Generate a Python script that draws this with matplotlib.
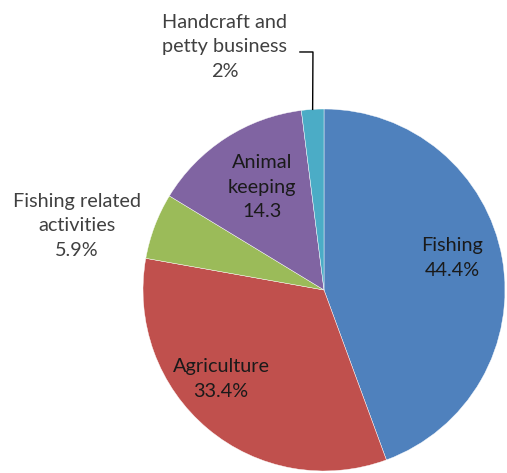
import matplotlib
matplotlib.use("Agg")
import matplotlib.pyplot as plt
import numpy as np

categories = ["Fishing", "Agriculture", "Fishing related\nactivities", "Animal\nkeeping", "Handcraft and\npetty business"]
values = [44.4, 33.4, 5.9, 14.3, 2.0]
value_labels = ["44.4%", "33.4%", "5.9%", "14.3", "2%"]
colors = ["#4F81BD", "#C0504D", "#9BBB59", "#8064A2", "#4BACC6"]
# label anchor positions (in pie-radius units)
label_pos = [(0.707, 0.177), (-0.569, -0.492), (-1.365, 0.354), (-0.343, 0.569), (-0.547, 1.343)]
label_colors = ["#1a1a1a", "#1a1a1a", "#404040", "#1a1a1a", "#404040"]

fig = plt.figure(figsize=(5.07, 4.73), dpi=100)
ax = fig.add_axes([143/507, 2/473, 362/507, 362/473])
wedges, _ = ax.pie(values, colors=colors, startangle=90, counterclock=False,
                   radius=1.0, wedgeprops=dict(edgecolor="white", linewidth=0.3))
ax.set_xlim(-1, 1)
ax.set_ylim(-1, 1)
ax.set_aspect("equal")
ax.axis("off")

font = ["Lato", "DejaVu Sans"]
for cat, vl, (x, y), c in zip(categories, value_labels, label_pos, label_colors):
    ax.text(x, y, cat + "\n" + vl, ha="center", va="center", fontsize=14.3,
            color=c, family=font, linespacing=1.55, clip_on=False)

# leader line for the small slice
w = wedges[4]
mid = np.deg2rad((w.theta1 + w.theta2) / 2)
ex, ey = np.cos(mid), np.sin(mid)
ax.plot([-0.133, -0.061, ex], [1.315, 1.315, ey], color="black", lw=1.0, clip_on=False)

fig.savefig("out.png", dpi=100, facecolor="white")
